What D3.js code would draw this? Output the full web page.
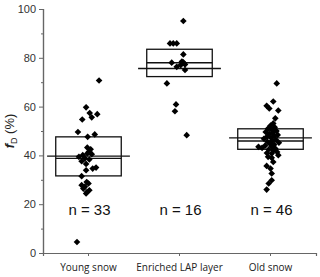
<!DOCTYPE html>
<html>
<head>
<meta charset="utf-8">
<script src="https://cdn.jsdelivr.net/npm/d3@7"></script>
<style>
body{margin:0;background:#fff;}
svg{display:block;font-family:"Liberation Sans",Arial,sans-serif;}
</style>
</head>
<body>
<script>
var width = 320;
var height = 277;

var categories = ["Young snow","Enriched LAP layer","Old snow"];
var counts = ["n = 33","n = 16","n = 46"];

// values (%) and horizontal jitter (-1..1)
var youngVals = [70.7,59.7,57.4,56.9,55.6,54.7,49.6,48.6,47.6,43.2,42.5,41.5,40.8,40.5,40.1,39.4,38.8,38.3,37.6,36.5,35,34.6,33.9,31.5,29.1,28.5,27.8,27.2,26.4,25.7,25,24.4,4.5];
var youngJit = [0.88,-0.2,0.1,0.73,0.27,-0.52,-0.88,0.52,-0.07,-0.1,0.18,0.04,-0.1,0.27,-0.48,-0.8,-0.3,0.07,-0.57,-0.2,0.63,0.35,-0.2,-0.57,-0.15,0,-0.57,-0.3,-0.43,0.07,-0.12,-0.2,-0.96];

var enrichedVals = [95.1,85.9,85.9,85.9,81.4,78.5,78.1,78,77.3,77,76.3,75,69.5,60.9,58.1,48.3];
var enrichedJit = [0.32,-0.79,-0.52,-0.23,0.32,0.2,0.32,-0.65,0.46,0.1,-0.23,0.46,-1.05,-0.29,-0.38,0.6];

var oldVals = [69.5,62.1,60.3,59.2,58.4,55.2,53.1,52.2,51.5,51,50.4,50,49.6,49.2,48.8,48.4,48,47.6,47.2,46.8,46.4,46,45.6,45.2,44.8,44.4,44,43.6,43.5,43.1,42.8,42.4,42,41.4,41,40.8,40.1,39.4,39,37.3,35.7,34.6,32.6,29.8,28.5,26];
var oldJit = [0.52,0.23,-0.32,-0.1,0.65,0.4,0.23,0,0.35,-0.2,0.1,0.5,-0.4,0.2,-0.1,0.6,0.3,-0.3,0.05,-0.55,0.45,0.15,-0.25,0.7,-0.05,0.3,-0.45,0.1,-1.0,-0.7,0.4,-0.15,0.25,0.55,-0.3,0.1,0.65,-0.2,0.1,0.23,-0.32,0,0.1,0.1,-0.15,-0.32];

var q1 = [31.6,72.3,42.5];
var q3 = [47.6,83.5,50.9];
var medians = [38.8,78.0,45.9];
var means = [39.7,75.6,47.2];

var yTicks = [0,20,40,60,80,100];
var yMinor = [10,30,50,70,90];

var groups = [
  {vals: youngVals, jit: youngJit},
  {vals: enrichedVals, jit: enrichedJit},
  {vals: oldVals, jit: oldJit}
];

var padding = {top:9,right:4,bottom:24,left:43};

var xScale = d3.scaleBand()
.domain(categories)
.range([padding.left, width - padding.right])
.padding(0);

var yScale = d3.scaleLinear()
.domain([0,100])
.range([height - padding.bottom, padding.top]);

var jitScale = d3.scaleLinear()
.domain([-1,1])
.range([-12,12]);

var svg = d3.select("body")
.append("svg")
.attr("width",width)
.attr("height",height);

// boxes
var bw = xScale.bandwidth();
var stats = categories.map(function(c,i){
  return {cat:c, q1:q1[i], q3:q3[i], med:medians[i], mean:means[i]};
});

svg.selectAll(".box")
.data(stats)
.enter()
.append("rect")
.attr("class","box")
.attr("x",function(d){ return xScale(d.cat) + bw*0.14; })
.attr("width",bw*0.72)
.attr("y",function(d){ return yScale(d.q3); })
.attr("height",function(d){ return yScale(d.q1) - yScale(d.q3); })
.attr("fill","none")
.attr("stroke","#111")
.attr("stroke-width",1.3);

svg.selectAll(".med")
.data(stats)
.enter()
.append("line")
.attr("x1",function(d){ return xScale(d.cat) + bw*0.14; })
.attr("x2",function(d){ return xScale(d.cat) + bw*0.86; })
.attr("y1",function(d){ return yScale(d.med); })
.attr("y2",function(d){ return yScale(d.med); })
.attr("stroke","#111")
.attr("stroke-width",1.4);

svg.selectAll(".mean")
.data(stats)
.enter()
.append("line")
.attr("x1",function(d){ return xScale(d.cat) + bw*0.045; })
.attr("x2",function(d){ return xScale(d.cat) + bw*0.955; })
.attr("y1",function(d){ return yScale(d.mean); })
.attr("y2",function(d){ return yScale(d.mean); })
.attr("stroke","#111")
.attr("stroke-width",1.4);

// points
var pts = [];
groups.forEach(function(g,i){
  g.vals.forEach(function(v,j){
    pts.push({cat:categories[i], v:v, j:g.jit[j]});
  });
});

var diamond = d3.symbol().type(d3.symbolSquare).size(22);

svg.selectAll(".pt")
.data(pts)
.enter()
.append("path")
.attr("d",diamond)
.attr("fill","#000")
.attr("transform",function(d){
  var cx = xScale(d.cat) + bw/2 + jitScale(d.j);
  return "translate(" + cx + "," + yScale(d.v) + ") rotate(45)";
});

// n labels
svg.selectAll(".nlab")
.data(counts)
.enter()
.append("text")
.attr("x",function(d,i){ return xScale(categories[i]) + bw/2 + 1; })
.attr("y",yScale(15.5))
.attr("text-anchor","middle")
.attr("font-size","15px")
.attr("fill","#111")
.text(function(d){ return d; });

// axes
var yAxis = d3.axisLeft(yScale).tickValues(yTicks).tickSize(4).tickPadding(3);
var yAxisMinor = d3.axisLeft(yScale).tickValues(yMinor).tickSize(2).tickFormat("");
var xAxis = d3.axisBottom(xScale).tickSize(3).tickPadding(8);

var gy = svg.append("g")
.attr("transform","translate(" + padding.left + ",0)")
.call(yAxis);
svg.append("g")
.attr("transform","translate(" + padding.left + ",0)")
.call(yAxisMinor);

var gx = svg.append("g")
.attr("transform","translate(0," + (height - padding.bottom) + ")")
.call(xAxis);

svg.selectAll(".domain").attr("stroke","#666").attr("stroke-width",1.2);
svg.selectAll(".tick line").attr("stroke","#666");
gy.selectAll("text").attr("font-size","11px").attr("fill","#333")
.style("font-family","'Liberation Sans',Arial,sans-serif");
gx.selectAll("text").attr("font-size","10px").attr("fill","#222")
.style("font-family","'Open Sans','Liberation Sans',sans-serif");

// y label
var ylab = svg.append("text")
.attr("transform","translate(14," + yScale(50) + ") rotate(-90)")
.attr("text-anchor","middle")
.attr("font-size","13px")
.attr("fill","#222");
ylab.append("tspan").attr("font-style","italic").attr("font-weight","bold").text("f");
ylab.append("tspan").attr("font-size","9px").attr("dy","3").text("D");
ylab.append("tspan").attr("dy","-3").text(" (%)");
</script>
</body>
</html>
